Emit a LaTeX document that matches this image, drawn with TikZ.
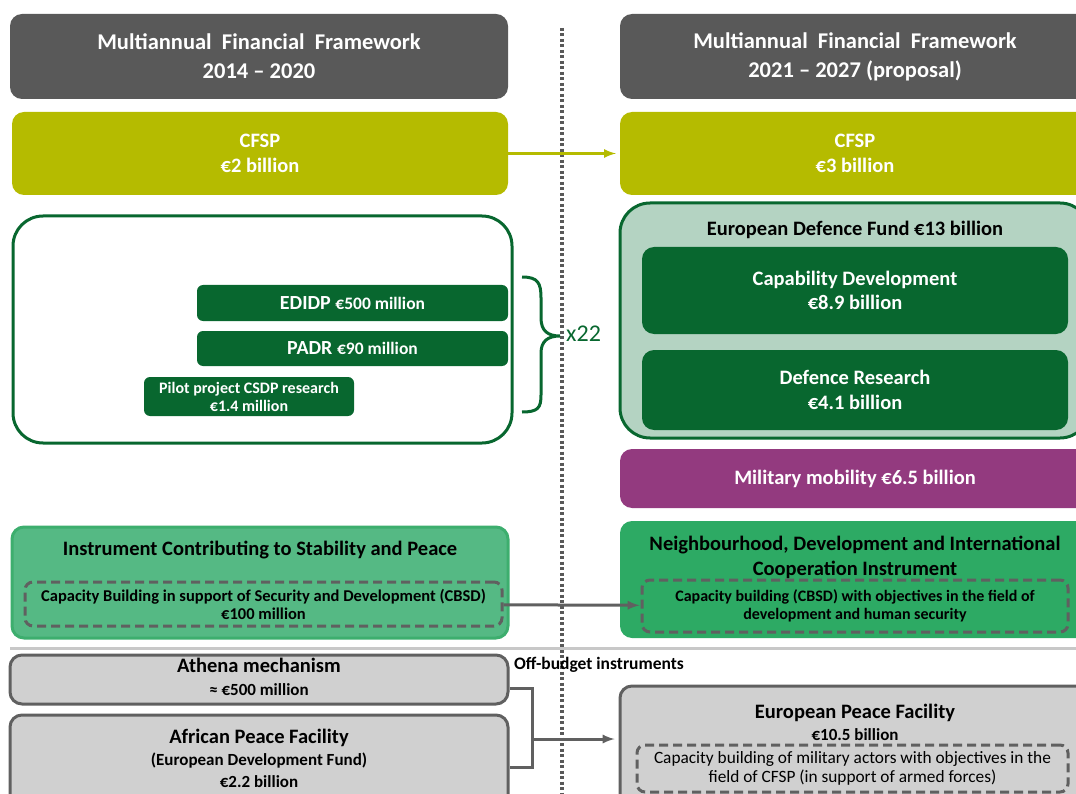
\documentclass[tikz,border=0pt]{standalone}
\usepackage{fontspec}
\setmainfont{Carlito}
\usetikzlibrary{arrows,positioning}
\definecolor{hdrgray}{RGB}{89,89,89}
\definecolor{olive}{RGB}{181,187,0}
\definecolor{dgreen}{RGB}{8,103,47}
\definecolor{edfgreen}{RGB}{180,211,194}
\definecolor{mgreen}{RGB}{45,170,100}
\definecolor{lgreen}{RGB}{85,185,132}
\definecolor{lgreenline}{RGB}{61,174,110}
\definecolor{mobpurple}{RGB}{147,58,127}
\definecolor{boxgray}{RGB}{208,208,208}
\definecolor{linegray}{RGB}{96,96,96}
\definecolor{sepgray}{RGB}{200,200,200}
\newcommand{\fs}[2]{\fontsize{#1}{#2}\selectfont}

\begin{document}
\begin{tikzpicture}[x=1pt,y=-1pt,
    box/.style={rounded corners=12pt, inner sep=0pt, align=center,
      font=\bfseries\fs{20.5}{24.5}},
    hdr/.style={box, fill=hdrgray, text=white, font=\bfseries\fs{22.5}{29}},
    cfsp/.style={box, fill=olive, text=white},
    fund/.style={box, fill=dgreen, text=white},
    dashbox/.style={draw=linegray, line width=3pt, dash pattern=on 9pt off 5pt,
      rounded corners=8pt, inner sep=0pt, align=center},
    offbox/.style={box, fill=boxgray, draw=linegray, line width=3pt},
    txt/.style={inner sep=0pt, align=center, font=\bfseries\fs{20.5}{24}}]
  \useasboundingbox (0,0) rectangle (1076,794);
  \clip (0,0) rectangle (1076,794);

  % headers
  \node[hdr, minimum width=498pt, minimum height=85pt] (h1) at (259,56.5)
    {Multiannual~ Financial~ Framework\\2014 – 2020};
  \node[hdr, minimum width=470pt, minimum height=85pt] (h2) at (855,56.5)
    {Multiannual~ Financial~ Framework\\2021 – 2027 (proposal)};
  \draw[black!65, line width=3.2pt, dash pattern=on 3pt off 2.5pt] (562,28) coordinate (d1) -- (562,794) coordinate (d2);

  % CFSP
  \node[cfsp, minimum width=496pt, minimum height=83pt] (c1) at (260,153.5) {CFSP\\€2 billion};
  \node[cfsp, minimum width=470pt, minimum height=83pt] (c2) at (855,153.5) {CFSP\\€3 billion};
  \path[-latex, olive, line width=3pt, shorten >=4pt] (c1) edge (c2);

  % defence, 2014-2020
  \node[draw=dgreen, line width=3pt, rounded corners=30pt, minimum width=499pt,
    minimum height=227pt] (old) at (262.5,329.5) {};
  \node[fund, rounded corners=6pt, minimum width=311pt, minimum height=36pt] (edidp) at (352.5,303)
    {\fs{20}{22}EDIDP \fs{17.5}{22}€500 million};
  \node[fund, rounded corners=6pt, minimum width=311pt, minimum height=35pt] (padr) at (352.5,348.5)
    {\fs{20}{22}PADR \fs{17.5}{22}€90 million};
  \node[fund, rounded corners=6pt, minimum width=210pt, minimum height=39pt,
    font=\bfseries\fs{16}{18}] (pilot) at (249,396.5) {Pilot project CSDP research\\€1.4 million};
  \draw[dgreen, line width=3pt] (522,277) .. controls (538,277) and (541,283) .. (541,298)
    -- (541,318) .. controls (541,331) and (548,336) .. (560,336) coordinate (tip)
    .. controls (548,336) and (541,341) .. (541,353) -- (541,395)
    .. controls (541,408) and (538,412) .. (522,412);
  \node[right=6pt of tip, yshift=2pt, inner sep=0pt, text=dgreen, font=\fs{24}{26}] (x22) {x22};

  % defence, 2021-2027
  \node[draw=dgreen, fill=edfgreen, line width=3pt, rounded corners=30pt, minimum width=470pt,
    minimum height=235pt] (edf) at (855,320.5) {};
  \node[txt] (edft) at (855,230) {European Defence Fund €13 billion};
  \node[fund, minimum width=426pt, minimum height=87pt] (capdev) at (855,290.5)
    {Capability Development\\€8.9 billion};
  \node[fund, minimum width=426pt, minimum height=80pt] (defres) at (855,390)
    {Defence Research\\€4.1 billion};
  \node[box, fill=mobpurple, text=white, minimum width=470pt, minimum height=59pt] (mob) at (855,478.5)
    {Military mobility €6.5 billion};

  % capacity building
  \node[box, fill=lgreen, draw=lgreenline, line width=3pt, minimum width=496pt,
    minimum height=111pt] (icsp) at (260,582.5) {};
  \node[txt] (icspt) at (260,550) {Instrument Contributing to Stability and Peace};
  \node[dashbox, minimum width=477pt, minimum height=44pt, font=\bfseries\fs{16.5}{18}] (icb) at (263.5,604)
    {Capacity Building in support of Security and Development (CBSD)\\€100 million};
  \node[box, fill=mgreen, minimum width=470pt, minimum height=117pt] (ndici) at (855,579.5) {};
  \node[txt, font=\bfseries\fs{20.5}{25}] (ndicit) at (855,557)
    {Neighbourhood, Development and International\\Cooperation Instrument};
  \node[dashbox, minimum width=426pt, minimum height=52pt, font=\bfseries\fs{16}{17.5}] (ndcb) at (855,606)
    {Capacity building (CBSD) with objectives in the field of\\development and human security};
  \path[-latex, linegray, line width=3pt, shorten >=1pt] (icb) edge (ndcb);

  % off-budget
  \draw[sepgray, line width=3pt] (10,648) coordinate (s1) -- (1076,648) coordinate (s2);
  \node[txt, font=\bfseries\fs{17.5}{20}] (offb) at (599,665) {Off-budget instruments};
  \node[offbox, minimum width=498pt, minimum height=49pt] (athena) at (259,679.5) {};
  \node[txt, font=\bfseries\fs{20.5}{23}] (athenat) at (259,676.5) {Athena mechanism\\\fs{17}{23}≈ €500 million};
  \node[offbox, minimum width=498pt, minimum height=95pt] (apf) at (259,762.5) {};
  \node[txt, font=\bfseries\fs{20.5}{22}] (apft) at (259,758)
    {African Peace Facility\\\fs{17}{22}(European Development Fund)\\\fs{17}{22}€2.2 billion};
  \node[offbox, minimum width=470pt, minimum height=124pt] (epf) at (855,748) {};
  \node[txt, font=\bfseries\fs{20.5}{22}] (epft) at (855,722) {European Peace Facility\\\fs{17}{22}€10.5 billion};
  \node[dashbox, minimum width=431pt, minimum height=47pt, font=\fs{17.3}{19}] (epcb) at (852.5,768.5)
    {Capacity building of military actors with objectives in the\\field of CFSP (in support of armed forces)};
  \coordinate (j) at (532,739);
  \draw[linegray, line width=3pt] ([yshift=-9pt]athena.east) -| (j) |- ([yshift=-5pt]apf.east);
  \path[-latex, linegray, line width=3pt, shorten >=4pt] (j) edge (j -| epf.west);
\end{tikzpicture}
\end{document}
